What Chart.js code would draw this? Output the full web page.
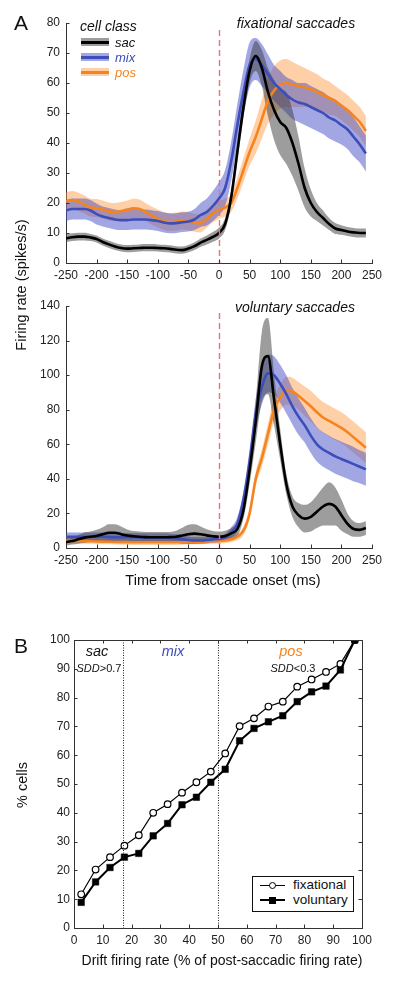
<!DOCTYPE html>
<html><head><meta charset="utf-8">
<script src="https://cdn.jsdelivr.net/npm/chart.js@4/dist/chart.umd.min.js"></script>
<style>
html,body{margin:0;padding:0;background:#fff;}
body{width:400px;height:981px;position:relative;overflow:hidden;font-family:"Liberation Sans",Arial,sans-serif;color:#111;}
canvas{position:absolute;left:0;}
.t{position:absolute;white-space:nowrap;line-height:1;transform:translate(-50%,-50%);}
.l{position:absolute;white-space:nowrap;line-height:1;transform:translateY(-50%);}
.i{font-style:italic;}
.rot{transform:translate(-50%,-50%) rotate(-90deg);}
.sw{position:absolute;}
</style></head><body>
<canvas id="c1" width="400" height="290" style="top:0"></canvas>
<canvas id="c2" width="400" height="300" style="top:290px"></canvas>
<canvas id="c3" width="400" height="381" style="top:600px"></canvas>

<div class="t" style="left:21px;top:22px;font-size:21px;">A</div>
<div class="t" style="left:21px;top:645px;font-size:21px;">B</div>
<div class="t rot" style="left:21px;top:285px;font-size:14.5px;">Firing rate (spikes/s)</div>
<div class="t" style="left:223px;top:580px;font-size:14.5px;">Time from saccade onset (ms)</div>
<div class="t rot" style="left:22px;top:785px;font-size:14.5px;">% cells</div>
<div class="t" style="left:222px;top:960px;font-size:14px;">Drift firing rate (% of post-saccadic firing rate)</div>

<div class="t i" style="left:296px;top:23px;font-size:14px;">fixational saccades</div>
<div class="t i" style="left:295px;top:307px;font-size:14px;">voluntary saccades</div>

<div class="l i" style="left:80px;top:26px;font-size:14px;">cell class</div>
<div class="sw" style="left:81px;top:38px;width:28px;height:8px;background:rgba(60,60,60,0.5)"></div>
<div class="sw" style="left:81px;top:40.5px;width:28px;height:3px;background:#000"></div>
<div class="sw" style="left:81px;top:53px;width:28px;height:8px;background:rgba(70,80,200,0.5)"></div>
<div class="sw" style="left:81px;top:55.5px;width:28px;height:3px;background:#3d4eb8"></div>
<div class="sw" style="left:81px;top:68px;width:28px;height:8px;background:rgba(255,150,60,0.45)"></div>
<div class="sw" style="left:81px;top:70.5px;width:28px;height:3px;background:#f5841f"></div>
<div class="l i" style="left:115px;top:42px;font-size:13px;color:#111">sac</div>
<div class="l i" style="left:115px;top:57px;font-size:13px;color:#3d4eb8">mix</div>
<div class="l i" style="left:115px;top:72px;font-size:13px;color:#f5841f">pos</div>

<div class="t i" style="left:97px;top:651px;font-size:14.5px;">sac</div>
<div class="t i" style="left:173px;top:651px;font-size:14.5px;color:#3d4eb8">mix</div>
<div class="t i" style="left:291px;top:651px;font-size:14.5px;color:#f5841f">pos</div>
<div class="t" style="left:99px;top:668px;font-size:11px;"><span class="i">SDD</span>&gt;0.7</div>
<div class="t" style="left:293px;top:668px;font-size:11px;"><span class="i">SDD</span>&lt;0.3</div>

<div class="sw" style="left:252px;top:876px;width:100px;height:34px;border:1px solid #111;background:#fff"></div>
<div class="sw" style="left:260px;top:884.5px;width:25px;height:1.3px;background:#000"></div>
<div class="sw" style="left:268.5px;top:881.5px;width:5px;height:5px;border:1.3px solid #000;border-radius:50%;background:#fff"></div>
<div class="sw" style="left:260px;top:899px;width:25px;height:2px;background:#000"></div>
<div class="sw" style="left:269px;top:896.5px;width:7px;height:7px;background:#000"></div>
<div class="l" style="left:293px;top:885px;font-size:13.5px;">fixational</div>
<div class="l" style="left:293px;top:900px;font-size:13.5px;">voluntary</div>

<script>
// ---- data ----
const time = [-250,-240,-230,-220,-210,-200,-190,-180,-170,-160,-150,-140,-130,-120,-110,-100,-90,-80,-70,-60,-50,-40,-30,-20,-10,
              0,10,20,30,40,50,60,70,80,90,100,110,120,130,140,150,160,170,180,190,200,210,220,230,240];
const timeTicks = [-250,-200,-150,-100,-50,0,50,100,150,200,250];
const fixTicks = [0,10,20,30,40,50,60,70,80];
const volTicks = [0,20,40,60,80,100,120,140];

// fixational saccades
const fixSac    = [8.2,8.6,8.8,8.8,8.5, 8.0,7.0,6.2,5.5,5.0, 4.8,4.9,5.0,5.1,5.1, 5.0,4.9,4.7,4.4,4.3, 4.8,5.6,6.8,7.7,8.7,
                   10,13,22,37,52, 64,69,65,57,51, 47,45,40,33,25, 20,17,15,13,11.5, 11,10.5,10.2,10,10];
const fixSacErr = [1.3,1.3,1.3,1.3,1.2, 1.2,1.2,1.2,1.2,1.2, 1.2,1.2,1.2,1.2,1.2, 1.2,1.2,1.2,1.2,1.2, 1.2,1.3,1.4,1.5,1.6,
                   1.8,2,2.5,3,3.5, 4,5,6,8,10, 11,12,11,9,6.5, 4.5,3,2.5,2,1.8, 1.6,1.5,1.5,1.5,1.5];
const fixMix    = [17.5,18,18,18,17.5, 16.3,15.5,15,14.5,14.3, 14.3,14.5,14.5,14.5,14.3, 14,13.5,13.2,13.3,13.6, 13.8,14.5,16,17,19,
                   21.5,25,34,46,57, 66,68,66,63,60, 58,56,54.5,53.5,53, 52,51,50,48.5,47.5, 46,44.5,42,39.5,36.5];
const fixMixErr = [3.5,3.5,3.5,3.5,3.5, 3.5,3.3,3.3,3.3,3.3, 3.3,3.3,3.3,3.3,3.3, 3.3,3.3,3.3,3.3,3.3, 3.3,3.5,4,4.5,5,
                   5.5,6,6.5,7,7.5, 7.5,7,7,6.5,6, 6,6,6.5,6.5,7, 7,7,7,7,7, 6.5,6.5,6.5,6,6];
const fixPos    = [20.5,21,20.5,19.5,18.5, 18.3,17.8,17.2,17,17.3, 17.8,18.2,18,17,15.8, 14.8,14,13.7,13.8,14.2, 14,13.4,13.2,14.8,16.6,
                   17.7,18.5,20,25,31, 37,42,48,54,57.5, 59.5,60,59.5,59,58.5, 58,57,56,55,54, 52.5,51,49,47,44];
const fixPosErr = [3,3,3,3,3, 3,3,3,3,3, 3,3.2,3.2,3,3, 3,3,3,3,3, 3,3,3,3,3,
                   3,3,3,3.5,4, 4.5,5.5,6.5,7.5,8, 8,8,7.5,7,6.5, 6,6,5.5,5.5,5, 5,5,5,5,5];

// voluntary saccades
const volSac    = [3.5,4,5,6,6.5, 7,8,8.8,8.8,8, 7.2,6.8,6.5,6.3,6.2, 6.2,6.2,6.3,6.5,7.2, 8,8.3,8,7.3,6.8,
                   6.5,7,8.5,11,22, 45,73,105,111,86, 60,37,24,19,17, 18,21,24,25.5,24, 19,14,11,10.5,11.5];
const volSacErr = [2,2,2.5,3,3, 3.5,4,5,5,4.5, 3.5,3,3,3,3, 3,3,3,3.5,4.5, 5.5,5.5,4.5,3.5,3,
                   3,3,3,4,5, 8,12,20,22,15, 9,6,6,7,8, 8.5,9.5,11,12.5,11, 9,6,4.5,4,4];
const volMix    = [6.5,6.5,6.5,6.5,6.5, 6.5,6.5,6.3,6.2,6.2, 6.2,6.2,6.1,6,6, 6,6,5.8,5.5,5, 4.6,4.3,4.3,4.6,5,
                   5.3,6,9,14,28, 50,77,93,101,100, 95,89,82,76,71, 65,60,57,55,53, 51.5,50,48.5,47,45.5];
const volMixErr = [2.5,2.5,2.5,2.5,2.5, 2.5,2.5,2.5,2.5,2.5, 2.5,2.5,2.5,2.5,2.5, 2.5,2.5,2.5,2.5,2.5, 2,2,2,2,2,
                   2,2,3,4,5, 7,9,10,11,11, 11,11,10.5,10.5,10, 10,10,10,10,10, 10,10,10,9.5,9.5];
const volPos    = [4.2,4.2,4.1,4,3.9, 3.8,3.7,3.6,3.5,3.4, 3.4,3.3,3.3,3.3,3.3, 3.3,3.3,3.3,3.3,3.4, 3.5,3.6,3.7,3.8,3.9,
                   4,4.3,5,6.5,10, 20,40,52,66,80, 87,91,90.5,88,85, 82,78.5,75.5,73.5,71.5, 69.5,67,64,61,58];
const volPosErr = [1.5,1.5,1.5,1.5,1.5, 1.5,1.5,1.5,1.5,1.5, 1.5,1.5,1.5,1.5,1.5, 1.5,1.5,1.5,1.5,1.5, 1.5,1.5,1.5,1.5,1.5,
                   1.5,1.5,1.5,2,2.5, 3,4,5,6,7, 7.5,8,8,8,8.5, 9,9,9,9,9, 9,9,9,9,9];

// panel B
const driftX   = [2.5,7.5,12.5,17.5,22.5,27.5,32.5,37.5,42.5,47.5,52.5,57.5,62.5,67.5,72.5,77.5,82.5,87.5,92.5,97.5];
const fixCells = [11.7,20.3,24.6,28.6,32.2,40,43,47,50.6,54.3,60.6,70.1,72.8,76.9,78.6,83.8,86.3,88.9,91.7,100];
const volCells = [8.9,16,21,24.6,25.9,32,36.3,42.8,45.4,50.6,55.1,65,69.3,71.6,73.7,78.6,82,84,89.6,100];
const pctTicks = [0,10,20,30,40,50,60,70,80,90,100];
const classBounds = [17, 50];

// ---- styling ----
const AX = '#333';
const tickFont = {family:'"Liberation Sans", Arial, sans-serif', size:12};
const COL = {
  sac:{line:'#000000', band:'rgba(60,60,60,0.5)'},
  mix:{line:'#3d4eb8', band:'rgba(70,80,200,0.5)'},
  pos:{line:'#f5841f', band:'rgba(255,150,60,0.45)'}
};

const framePlugin = {
  id:'frame',
  afterDraw(chart, args, o){
    const {ctx, chartArea:a, scales:{x,y}} = chart;
    ctx.save();
    (o.vlines||[]).forEach(v=>{
      const px = Math.round(x.getPixelForValue(v))+0.5;
      ctx.beginPath(); ctx.strokeStyle=o.vColor; ctx.lineWidth=o.vWidth; ctx.setLineDash(o.vDash);
      ctx.moveTo(px, a.top + (o.vTop||0)); ctx.lineTo(px, a.bottom); ctx.stroke();
    });
    ctx.setLineDash([]);
    ctx.strokeStyle = AX; ctx.lineWidth = 1;
    const L = o.len;
    ctx.beginPath();
    x.ticks.forEach(t=>{
      const px = Math.round(x.getPixelForValue(t.value))+0.5;
      ctx.moveTo(px, a.bottom); ctx.lineTo(px, a.bottom-L);
      if(o.box){ ctx.moveTo(px, a.top); ctx.lineTo(px, a.top+L); }
    });
    y.ticks.forEach(t=>{
      const py = Math.round(y.getPixelForValue(t.value))+0.5;
      ctx.moveTo(a.left, py); ctx.lineTo(a.left+L, py);
      if(o.box){ ctx.moveTo(a.right, py); ctx.lineTo(a.right-L, py); }
    });
    if(o.box){ ctx.rect(Math.round(a.left)+0.5, Math.round(a.top)+0.5, Math.round(a.right-a.left), Math.round(a.bottom-a.top)); }
    ctx.stroke();
    ctx.restore();
  }
};

function setTicks(arr){ return s => { s.ticks = arr.map(v=>({value:v})); }; }

function traceChart(id, geo, sets, yMax, yTicks){
  const ds = [];
  sets.forEach(s => ds.push({
    data: time.map((t,i)=>({x:t, y:s.mean[i]})),
    borderColor:s.c.line, borderWidth:2.6, pointRadius:0, fill:false, cubicInterpolationMode:'monotone'
  }));
  sets.forEach(s => {
    const lo = ds.length;
    ds.push({data: time.map((t,i)=>({x:t, y:s.mean[i]-s.err[i]})), borderColor:'rgba(0,0,0,0)', borderWidth:0.1,
             pointRadius:0, fill:false, cubicInterpolationMode:'monotone'});
    ds.push({data: time.map((t,i)=>({x:t, y:s.mean[i]+s.err[i]})), borderColor:'rgba(0,0,0,0)', borderWidth:0.1,
             pointRadius:0, fill:lo, backgroundColor:s.c.band, cubicInterpolationMode:'monotone'});
  });
  return new Chart(document.getElementById(id), {
    type:'line',
    data:{datasets:ds},
    options:{
      responsive:false, animation:false, events:[],
      layout:{padding:{left:0, right:geo.right, top:geo.top, bottom:0}},
      plugins:{legend:{display:false}, tooltip:{enabled:false}, filler:{drawTime:'beforeDatasetsDraw'},
               frame:{len:3.5, vlines:[0], vColor:'#e8707c', vWidth:1.4, vDash:[6,4], vTop:7}},
      scales:{
        x:{type:'linear', min:-250, max:250, afterBuildTicks:setTicks(timeTicks),
           ticks:{font:tickFont, color:'#222', padding:5, maxRotation:0, autoSkip:false},
           grid:{display:false, drawTicks:false, tickLength:0}, border:{display:true, color:AX, width:1},
           afterFit:s=>{s.height = geo.xh;}},
        y:{type:'linear', min:0, max:yMax, afterBuildTicks:setTicks(yTicks),
           ticks:{font:tickFont, color:'#222', padding:6, autoSkip:false},
           grid:{display:false, drawTicks:false, tickLength:0}, border:{display:true, color:AX, width:1},
           afterFit:s=>{s.width = geo.yw;}}
      }
    },
    plugins:[framePlugin]
  });
}

traceChart('c1', {top:23, right:28, xh:27, yw:66}, [
  {mean:fixSac, err:fixSacErr, c:COL.sac},
  {mean:fixMix, err:fixMixErr, c:COL.mix},
  {mean:fixPos, err:fixPosErr, c:COL.pos}
], 80, fixTicks);

traceChart('c2', {top:16, right:28, xh:42, yw:66}, [
  {mean:volSac, err:volSacErr, c:COL.sac},
  {mean:volMix, err:volMixErr, c:COL.mix},
  {mean:volPos, err:volPosErr, c:COL.pos}
], 140, volTicks);

new Chart(document.getElementById('c3'), {
  type:'line',
  data:{datasets:[
    {label:'voluntary', data:driftX.map((x,i)=>({x, y:volCells[i]})), borderColor:'#000', borderWidth:2,
     pointStyle:'rect', pointRadius:4.6, pointBackgroundColor:'#000', pointBorderColor:'#000', pointBorderWidth:0.5, tension:0},
    {label:'fixational', data:driftX.map((x,i)=>({x, y:fixCells[i]})), borderColor:'#000', borderWidth:1.2,
     pointStyle:'circle', pointRadius:3.3, pointBackgroundColor:'#fff', pointBorderColor:'#000', pointBorderWidth:1.2, tension:0}
  ]},
  options:{
    responsive:false, animation:false, events:[],
    layout:{padding:{left:0, right:38, top:40, bottom:0}},
    plugins:{legend:{display:false}, tooltip:{enabled:false},
             frame:{len:3.5, box:true, vlines:classBounds, vColor:'#222', vWidth:1, vDash:[1,1.5], vTop:0}},
    scales:{
      x:{type:'linear', min:0, max:100, afterBuildTicks:setTicks(pctTicks),
         ticks:{font:tickFont, color:'#222', padding:5, maxRotation:0, autoSkip:false},
         grid:{display:false, drawTicks:false, tickLength:0}, border:{display:true, color:AX, width:1},
         afterFit:s=>{s.height = 53;}},
      y:{type:'linear', min:0, max:100, afterBuildTicks:setTicks(pctTicks),
         ticks:{font:tickFont, color:'#222', padding:4, autoSkip:false},
         grid:{display:false, drawTicks:false, tickLength:0}, border:{display:true, color:AX, width:1},
         afterFit:s=>{s.width = 74;}}
    }
  },
  plugins:[framePlugin]
});
</script>
</body></html>
